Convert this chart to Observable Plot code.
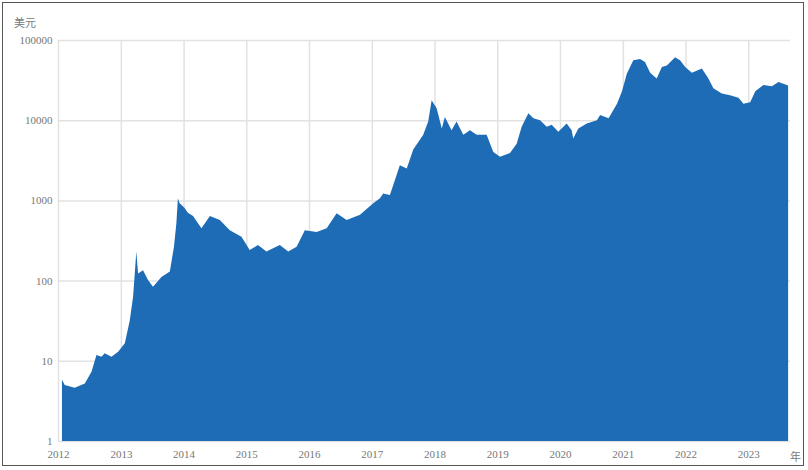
<!DOCTYPE html>
<html>
<head>
<meta charset="utf-8">
<script src="https://cdn.jsdelivr.net/npm/d3@7"></script>
<script src="https://cdn.jsdelivr.net/npm/@observablehq/plot@0.6"></script>
<style>
  html, body { margin: 0; padding: 0; background: #fff; }
  #wrap { position: relative; width: 808px; height: 470px; overflow: hidden; }
  #frame { position: absolute; left: 2px; top: 2px; width: 802px; height: 464px; border: 1.5px solid #555; box-sizing: border-box; pointer-events: none; }
  .lbl { position: absolute; font-family: "Noto Sans CJK SC", sans-serif; font-size: 11px; color: #777; }
</style>
</head>
<body>
<div id="wrap">
  <div id="chart"></div>
  <div class="lbl" id="yunit" style="left:14px; top:14px;">美元</div>
  <div class="lbl" id="xunit" style="left:790px; top:448px;">年</div>
  <div id="frame"></div>
</div>
<script>
const dates = [
  "2012-01-24","2012-02-09","2012-04-07","2012-06-05","2012-07-14","2012-08-12","2012-09-10","2012-09-29","2012-11-07","2012-12-16",
  "2013-01-24","2013-02-22","2013-03-13","2013-04-01","2013-04-11","2013-05-10","2013-06-08","2013-07-07","2013-08-25","2013-10-13",
  "2013-11-06","2013-11-20","2013-11-29","2013-12-08","2013-12-19","2014-01-08","2014-01-26","2014-02-25","2014-04-15","2014-06-03",
  "2014-07-31","2014-09-27","2014-12-04","2015-01-21","2015-03-10","2015-04-28","2015-07-15","2015-09-02","2015-10-21","2015-12-08",
  "2016-02-14","2016-04-13","2016-06-10","2016-08-07","2016-10-24","2017-01-09","2017-02-17","2017-03-08","2017-04-16","2017-06-13",
  "2017-07-23","2017-08-30","2017-10-27","2017-11-25","2017-12-15","2018-01-13","2018-02-12","2018-03-02","2018-04-10","2018-05-09",
  "2018-06-17","2018-07-26","2018-09-03","2018-10-31","2018-12-09","2019-01-17","2019-03-16","2019-04-24","2019-05-23","2019-07-01",
  "2019-07-30","2019-09-07","2019-10-16","2019-11-14","2019-12-22","2020-02-09","2020-03-09","2020-03-18","2020-04-17","2020-06-05",
  "2020-08-03","2020-08-22","2020-10-10","2020-11-28","2020-12-27","2021-01-24","2021-03-03","2021-04-11","2021-05-10","2021-06-09",
  "2021-07-17","2021-08-16","2021-09-14","2021-11-01","2021-11-30","2021-12-30","2022-02-07","2022-04-06","2022-05-14","2022-06-12",
  "2022-07-31","2022-09-17","2022-11-05","2022-12-04","2023-01-12","2023-02-11","2023-03-30","2023-05-18","2023-06-26","2023-08-13",
  "2023-08-21"
];
const prices = [
  5.8,5.0,4.6,5.2,7.3,11.8,11.2,12.4,11.2,13,
  16.5,32,63,230,123,135,102,84,111,130,
  265,520,1060,930,880,800,700,640,450,640,
  570,425,353,240,278,230,278,230,265,425,
  405,450,690,570,660,920,1060,1220,1170,2750,
  2500,4300,6600,9600,17700,14100,7900,11000,7500,9600,
  6600,7500,6600,6600,4000,3500,3900,5100,8300,12200,
  10600,10000,8300,8800,7200,9100,7500,5900,7900,9100,
  10000,11600,10600,16000,23000,38000,56000,58000,53000,39000,
  33000,46000,48000,61000,56000,46000,39000,44000,33000,25000,
  21600,20400,19000,16000,16800,23000,27500,26500,30000,27500,
  27000
];
const yTicks = [1, 10, 100, 1000, 10000, 100000];
const yearTicks = [2012,2013,2014,2015,2016,2017,2018,2019,2020,2021,2022,2023];

const data = dates.map((d, i) => ({date: new Date(d + "T00:00:00Z"), price: prices[i]}));
const yearDates = yearTicks.map(y => new Date(Date.UTC(y, 0, 1)));

const chart = Plot.plot({
  width: 808,
  height: 470,
  marginLeft: 58,
  marginRight: 18,
  marginTop: 40,
  marginBottom: 29,
  style: {fontFamily: "'Liberation Serif', 'DejaVu Serif', serif", fontSize: "11px", color: "#777", background: "transparent"},
  x: {type: "utc", domain: [new Date(Date.UTC(2012,0,1)), new Date(Date.UTC(2023,8,1))]},
  y: {type: "log", domain: [1, 100000]},
  marks: [
    Plot.gridX(yearDates, {stroke: "#e2e2e2", strokeOpacity: 1, strokeWidth: 1.5}),
    Plot.gridY(yTicks, {stroke: "#e2e2e2", strokeOpacity: 1, strokeWidth: 1.5}),
    Plot.areaY(data, {x: "date", y1: 1, y2: "price", fill: "#1e6cb6"}),
    Plot.axisX(yearDates, {tickSize: 0, tickPadding: 9, tickFormat: d => String(d.getUTCFullYear()), label: null, fill: "#777"}),
    Plot.axisY(yTicks, {tickSize: 0, tickPadding: 6, tickFormat: d => String(d), label: null, fill: "#777"})
  ]
});
document.getElementById("chart").appendChild(chart);
</script>
</body>
</html>
